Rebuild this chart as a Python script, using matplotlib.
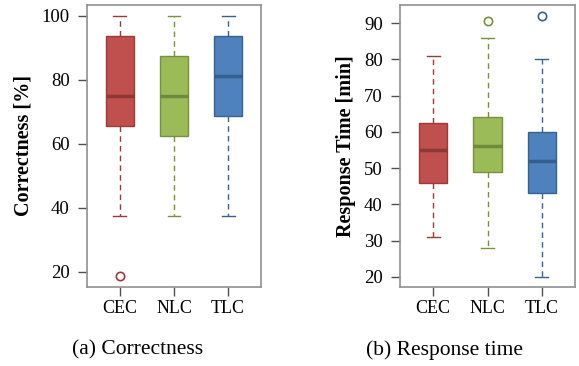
import matplotlib
matplotlib.use("Agg")
import matplotlib.pyplot as plt

plt.rcParams['font.family'] = ['Liberation Serif', 'DejaVu Serif']

groups = ["CEC", "NLC", "TLC"]
colors = ["#C0504D", "#9BBB59", "#4F81BD"]
edges = ["#9B3B38", "#76923C", "#386192"]
medcols = ["#8C3836", "#6E8A3C", "#345E8E"]

# correctness [%]: whislo, q1, med, q3, whishi
corr_lo = [37.5, 37.5, 37.5]
corr_q1 = [65.6, 62.5, 68.75]
corr_med = [75.0, 75.0, 81.25]
corr_q3 = [93.75, 87.5, 93.75]
corr_hi = [100, 100, 100]
corr_fliers = [[18.75], [], []]

# response time [min]
rt_lo = [31, 28, 20]
rt_q1 = [46, 49, 43]
rt_med = [55, 56, 52]
rt_q3 = [62.5, 64, 60]
rt_hi = [81, 86, 80]
rt_fliers = [[], [90.5], [92]]


def make_stats(lo, q1, med, q3, hi, fl):
    return [dict(whislo=a, q1=b, med=c, q3=d, whishi=e, fliers=f, label=g)
            for a, b, c, d, e, f, g in zip(lo, q1, med, q3, hi, fl, groups)]


def draw(ax, stats, ylim, yticks, ylabel):
    for i, s in enumerate(stats):
        ax.bxp([s], positions=[i + 1], widths=0.52, patch_artist=True,
               boxprops=dict(facecolor=colors[i], edgecolor=edges[i], linewidth=1),
               medianprops=dict(color=medcols[i], linewidth=2.5),
               whiskerprops=dict(color=edges[i], linestyle=(0, (4, 3)), linewidth=1),
               capprops=dict(color=edges[i], linewidth=1),
               flierprops=dict(marker='o', markerfacecolor='none', markeredgecolor=edges[i],
                               markersize=6, markeredgewidth=1.2),
               capwidths=0.24)
    ax.set_xlim(0.39, 3.61)
    ax.set_ylim(*ylim)
    ax.set_yticks(yticks)
    ax.set_xticks([1, 2, 3])
    ax.set_xticklabels(groups)
    ax.set_ylabel(ylabel, fontweight='bold', fontsize=14.5, labelpad=6)
    for sp in ax.spines.values():
        sp.set_color('#909090')
        sp.set_linewidth(1.2)
    ax.tick_params(colors='#505050', labelcolor='black', length=6.5, width=1)
    ax.tick_params(axis='y', labelsize=13.5, pad=6)
    ax.tick_params(axis='x', labelsize=13, pad=3)


fig = plt.figure(figsize=(5.79, 3.66), dpi=100)
ax1 = fig.add_axes([87 / 579, 1 - 287 / 366, 174 / 579, 282 / 366])
ax2 = fig.add_axes([400 / 579, 1 - 287 / 366, 175 / 579, 282 / 366])

draw(ax1, make_stats(corr_lo, corr_q1, corr_med, corr_q3, corr_hi, corr_fliers),
     (15.3, 103.4), [20, 40, 60, 80, 100], "Correctness [%]")
draw(ax2, make_stats(rt_lo, rt_q1, rt_med, rt_q3, rt_hi, rt_fliers),
     (17.2, 95.0), [20, 30, 40, 50, 60, 70, 80, 90], "Response Time [min]")

fig.text(138 / 579, 1 - 350 / 366, "(a) Correctness", ha='center', va='center', fontsize=15.5)
fig.text(445 / 579, 1 - 350 / 366, "(b) Response time", ha='center', va='center', fontsize=15.5)

fig.savefig("out.png", dpi=100)
